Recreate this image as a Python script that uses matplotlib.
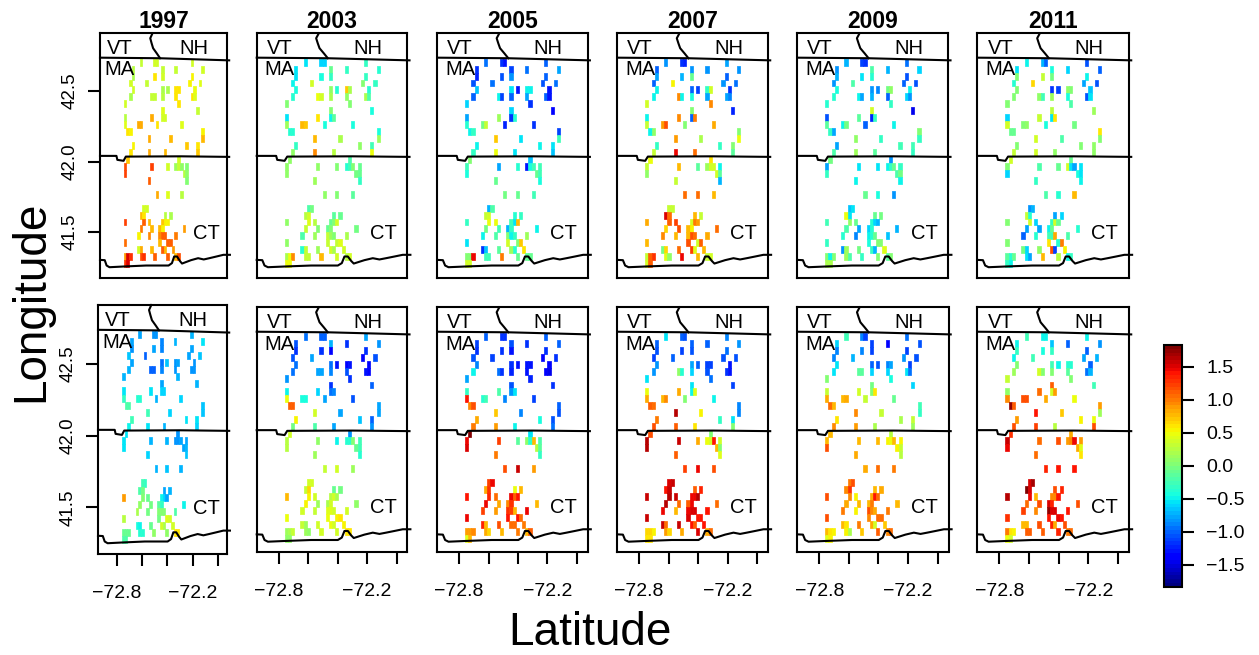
import numpy as np
import matplotlib
matplotlib.use('Agg')
import matplotlib.pyplot as plt
from matplotlib.colors import ListedColormap

plt.rcParams['font.family'] = ['Liberation Sans', 'DejaVu Sans']

years = [1997, 2003, 2005, 2007, 2009, 2011]

# grid centres
grid_lons = [-72.748, -72.727, -72.705, -72.684, -72.662, -72.641, -72.619, -72.598, -72.576, -72.555,
             -72.533, -72.512, -72.490, -72.469, -72.447, -72.426, -72.404, -72.383, -72.361, -72.340,
             -72.318, -72.297, -72.275, -72.254, -72.232, -72.211, -72.189, -72.168, -72.146, -72.125]
grid_lats = [42.705, 42.656, 42.606, 42.557, 42.508, 42.459, 42.409, 42.360, 42.311, 42.261,
             42.212, 42.163, 42.113, 42.064, 42.015, 41.965, 41.916, 41.867, 41.818, 41.768,
             41.719, 41.670, 41.620, 41.571, 41.522, 41.473, 41.423, 41.374, 41.325, 41.275]

# which columns hold a station in each row, same for every panel
row_cols = [[6, 11, 12, 25], [3, 14, 19, 29], [3, 11, 14, 25], [2, 8, 24, 28], [3, 14, 16, 19, 20, 26],
            [2, 10, 11, 14, 19, 25, 26], [0, 20], [14, 27], [0, 10, 14, 15], [0, 5, 6, 12, 21],
            [1, 2, 29], [9, 17, 29], [3, 23, 27], [2, 9, 15, 27], [1, 20],
            [0, 10, 16, 19, 20, 21, 23], [0, 22, 23], [9, 23], [], [12, 16, 21],
            [], [7, 8], [6, 7, 15, 17], [0, 7, 9, 14, 15, 16], [6, 10, 13, 14, 22],
            [5, 9, 13, 14, 15, 19], [0, 13, 16, 17], [5, 6, 10, 14, 15, 18],
            [0, 1, 2, 6, 7, 11, 16, 19, 20], [0, 1]]

top_1997 = [[.3, .35, .35, .35], [.25, .3, .3, .35], [.2, .6, .35, .55], [.35, .3, .55, .45], [.4, .2, .2, .6, .6, .5],
            [.2, .3, .3, .25, .6, .6, .45], [.4, .6], [.45, .3], [.25, .85, .4, .4], [.45, .85, .85, .6, .45],
            [.6, .55, .55], [.85, .8, .75], [.55, .7, .6], [.6, .85, .75, .7], [.7, .4],
            [1.2, 1.25, .4, .15, .3, .1, .05], [1.25, .25, .1], [1.1, 0], [], [.85, .45, .25],
            [], [.35, .35], [.8, .6, .25, .2], [1.25, 1.1, .8, .7, .55, .55], [1.0, .75, .8, .55, .9],
            [.55, .95, .95, 1.1, 1.1, 1.0], [1.05, .75, 1.1, 1.1], [.35, .85, .75, 1.1, .75, .9],
            [.9, 1.5, 1.3, 1.2, 1.3, 1.1, 1.1, .75, 1.2], [1.3, 1.5]]
top_2003 = [[-.55, -.6, -.6, -.3], [-.55, -.1, -.3, -.35], [-.55, -.45, -.3, -.3], [-.5, .35, 0, -.3], [-.45, .1, -.4, .7, .2, -.35],
            [-.35, .5, .35, .2, .1, .2, -.2], [.05, 0], [0, -.45], [-.55, .6, -.5, -.15], [.15, .8, .7, -.45, -.45],
            [-.4, -.35, -.45], [.75, .2, .15], [-.3, .1, -.25], [.1, .95, .25, .5], [.1, -.2],
            [.1, .1, 0, -.4, -.25, 0, -.1], [.1, -.05, -.1], [.15, -.3], [], [.1, .05, -.15],
            [], [-.2, -.05], [.25, .35, -.15, -.1], [.1, .45, .25, -.1, .05, .35], [.3, 0, -.1, 0, -.05],
            [-.2, .15, .3, .15, .05, .2], [.1, .3, .3, .45], [-.35, .3, .15, .35, .2, .4],
            [.2, .5, .95, .3, .3, .8, .35, .25, .4], [.5, .5]]
top_2005 = [[-.95, -1.2, -1.3, -1.0], [-1.2, -1.1, -.95, -.8], [-1.25, -1.05, -.85, -1.0], [-1.05, -.95, -1.05, -.95], [-.65, -.55, -1.3, -.5, -.5, -1.3],
            [-1.0, -.5, -1.1, -1.0, -.8, -1.0, -1.3], [-.6, -1.2], [-.6, -1.4], [-.75, .15, -1.2, -.35], [-.4, -.05, .3, -1.25, -1.15],
            [-.5, -.3, -1.1], [.7, -.55, -.25], [-.5, -.5, -.55], [-.3, .5, -.55, -.65], [.05, -.65],
            [-.25, -.75, -.35, -1.3, -.45, -.25, -.25], [-.45, -.1, -.25], [-.1, -.45], [], [-.05, -.1, -.25],
            [], [-.7, -.2], [.3, .4, -.35, -.3], [-.3, .5, .5, -.25, -.55, .75], [-.05, -.25, -.7, -.3, -.5],
            [-.5, -.2, 0, -.5, -.3, .15], [-.55, .35, 0, .7], [-1.15, -.65, -.15, .15, -.35, .6],
            [.05, .05, 1.45, -.25, -.25, 1.0, -.1, -.1, -.1], [.4, .4]]
top_2007 = [[-.85, -1.15, -1.25, -.75], [-1.0, -.85, -.85, -.85], [-.8, -.7, -.1, -1.0], [-1.0, .55, -.85, -.95], [-.5, -1.0, -1.1, -.3, .35, -1.2],
            [-.5, .95, -.5, -.45, -.75, -.75, -.9], [.35, .95], [0, -1.25], [-.5, .95, -1.0, 1.0], [.3, .9, 1.2, .05, .85],
            [-.5, .1, .05], [.9, .2, .5], [-.3, -.3, 0], [.3, 1.45, 1.05, -.15], [.5, .6],
            [.3, .8, -.15, .15, .4, .35, -.5], [.1, .35, -.15], [.3, -.7], [], [1.05, 1.05, .75],
            [], [.3, .3], [1.5, 1.05, .8, .3], [.85, 1.1, 1.25, .35, 1.0, .9], [.65, 1.15, .8, .55, 1.05],
            [.95, .75, .75, 1.2, 1.05, .85], [.8, 1.15, .4, 1.1], [-.05, .65, 1.05, 1.25, .45, .8],
            [.3, 1.1, 1.3, .45, .1, 1.45, .75, .3, .4], [.35, 1.1]]
top_2009 = [[-.7, -1.1, -1.2, -.95], [-.85, -.2, -.7, -.6], [-.7, -.55, -.35, -1.05], [-.85, -.2, -1.0, -1.05], [-.45, -.85, -.9, -.05, .1, -.5],
            [-.4, -.5, -.75, -.7, -1.0, -.6, -.85], [-.35, -.3], [.35, -1.45], [-1.05, -.15, -1.25, -.3], [-.15, -.5, -.05, -1.0, -.5],
            [-.3, -.75, .05], [.1, -.3, -.3], [-.75, -.25, -.25], [-.2, .15, -.15, -.3], [-.05, -.85],
            [-.75, -.55, -.55, -.5, -.3, -.1, -.3], [-.3, -.2, -.05], [-.5, -.5], [], [-.1, -.45, -.85],
            [], [-.65, -.55], [.5, -.55, -.1, -.05], [-.25, .1, -.1, -.4, -.6, -.7], [-.2, -.8, -.6, -.35, -.7],
            [-.35, -.9, -.5, -.4, -.1, -.65], [-.3, -.45, .05, .05], [-.85, .15, -.05, -.3, -.7, .45],
            [0, -.5, .05, .15, -.2, -.3, 0, -.15, .05], [.2, .2]]
top_2011 = [[-.5, -.7, -1.0, -1.05], [-.55, -.45, -.6, -1.0], [.05, .3, -.05, -.5], [-.35, .65, -.8, -1.05], [.05, -1.15, -1.1, .1, .05, -.65],
            [.05, .1, -.25, .15, -.45, -1.05, -.55], [.05, -.2], [.25, .15], [-.6, .3, -.55, .6], [.4, .05, .1, -.45, -.05],
            [-.1, -.1, .6], [.35, -.2, 0], [.05, .05, .1], [.3, .4, .1, .1], [.35, -.1],
            [0, -.2, -.1, .35, -.55, -.75, -.55], [-.6, -.45, -.55], [-.3, -.5], [], [-.2, -.4, .8],
            [], [-.85, -.7], [.3, -.4, -.75, -.6], [.05, .35, -.6, -.3, .4, -.1], [-.75, -.8, -.5, -.1, -.35],
            [-1.0, -.4, -.25, -.25, .85, -.2], [.05, .6, -.4, 1.0], [-.05, -.6, .1, 1.15, -1.1, .55],
            [-.15, -.4, -.1, -.55, -.75, .75, .25, -.5, -.3], [-.3, -.5]]
bot_1997 = [[-.75, -.85, -.85, -.7], [-.8, -.9, -.7, -.55], [-.85, -.8, -.9, -.75], [-.65, -1.0, -.8, -.65], [-.75, -.95, -.65, -.85, -.8, -.85],
            [-.7, -1.0, -1.0, -.9, -.85, -.85, -.85], [-.7, -.7], [-.75, -.7], [-.55, -.55, -.6, -.6], [-.3, -.35, -.35, -.7, -.6],
            [-.2, -.2, -.65], [-.25, -.6, -.65], [-.25, -.55, -.55], [-.5, -.55, -.7, -.6], [-.55, -.85],
            [-.55, -.7, -.7, -.85, -.85, -.75, -.75], [-.55, -.75, -.7], [-.6, -.65], [], [-.7, -.65, -.7],
            [], [-.25, -.3], [-.2, -.05, -.8, -.7], [.9, .05, -.1, -.5, -.6, -.75], [.1, -.05, -.15, -.3, -.5],
            [.2, -.05, 0, 0, .05, -.2], [.25, -.05, .45, .4], [-.45, -.5, -.1, .35, .2, .35],
            [-.1, -.1, -.1, -.4, -.35, .1, .1, .6, .6], [-.2, -.2]]
bot_2003 = [[-.95, -1.0, -1.0, -.8], [-1.05, -.7, -1.2, -.85], [-1.15, -1.2, -1.35, -1.2], [-1.05, -.8, -1.35, -1.05], [-.95, -.95, -1.3, -1.35, -1.3, -1.35],
            [-.95, -.75, -.75, -.9, -1.05, -1.3, -1.35], [-.85, -1.15], [-1.2, -1.0], [-.5, -.6, -.95, -.9], [.5, -.45, -.45, -.75, -1.05],
            [1.1, 1.1, -.8], [.35, -.8, -.8], [.55, -.65, -1.0], [-.05, -.2, -.75, -.85], [.35, -.85],
            [.25, .1, -.5, -.35, -.35, .05, -.25], [.25, -.1, -.25], [.15, -.35], [], [.3, .35, .15],
            [], [.35, .4], [.3, .65, -.1, -.05], [.75, .55, .35, .25, .35, .2], [.55, .15, .2, .35, .1],
            [.4, .3, .45, .45, .35, .35], [.5, .5, .55, .6], [.3, .15, .35, .5, .35, .55],
            [.15, .2, .3, .15, .1, .4, .4, .6, .6], [.1, .1]]
bot_2005 = [[-1.0, -1.15, -1.15, -1.0], [-1.1, -1.05, -1.2, -1.0], [-1.2, -1.2, -1.3, -1.15], [-1.05, -1.1, -1.35, -1.2], [-.9, -1.2, -1.3, -1.3, -1.3, -1.4],
            [-.5, -.95, -1.2, -1.25, -1.3, -1.4, -1.45], [-.8, -1.25], [-1.05, -1.15], [-.3, -.2, -.85, -.55], [1.4, -.35, -.25, -.9, -1.1],
            [.95, 1.15, -1.0], [.7, -.9, -1.05], [.85, -.45, -1.05], [1.0, .9, -.5, -.95], [1.83, -.55],
            [1.45, 1.25, -.15, .1, -.35, .8, -.2], [1.5, .25, -.15], [1.0, -.3], [], [1.2, 1.55, .9],
            [], [1.25, 1.45], [.85, 1.3, .5, .8], [1.4, 1.35, 1.05, 1.45, 1.1, 1.4], [1.45, .85, .95, 1.3, .8],
            [1.25, .9, 1.3, 1.25, .8, 1.45], [1.45, 1.4, 1.4, 1.05], [1.35, .75, 1.2, 1.05, 1.05, 1.0],
            [.9, .9, .95, .85, .65, .75, 1.0, .75, 1.1], [.45, .75]]
bot_2007 = [[-.55, -1.0, -1.05, -.9], [-1.0, -1.0, -1.0, -.85], [-1.05, -1.1, -1.05, -.95], [-1.1, -1.0, -1.05, -1.05], [-.85, -.75, -1.0, -1.1, -1.1, -1.3],
            [-.85, .1, -.4, -.6, -1.05, -1.2, -1.3], [-.55, -.95], [-.55, -1.1], [.5, .85, -.5, .45], [.85, .75, .95, .05, -.5],
            [1.1, 1.05, -.9], [1.65, .55, -.9], [1.0, -.3, -.55], [1.2, 1.1, .6, 0], [1.15, .05],
            [1.65, 1.6, .85, .5, .4, 1.4, .4], [1.65, .8, .05], [1.1, .45], [], [1.25, 1.45, 1.2],
            [], [1.5, 1.55], [1.4, 1.55, 1.1, 1.35], [1.6, 1.65, 1.6, 1.45, 1.45, 1.65], [1.65, 1.05, 1.1, 1.45, 1.05],
            [1.45, .8, 1.45, 1.5, 1.5, 1.4], [1.6, 1.5, 1.4, 1.4], [1.55, 1.05, 1.55, 1.4, 1.1, 1.4],
            [.65, .65, .55, .9, .65, .85, 1.5, .85, 1.05], [.6, .6]]
bot_2009 = [[-.25, -.9, -1.1, -.95], [-.6, -1.1, -1.4, -1.05], [-.9, -.9, -1.1, -1.1], [-.9, -.7, -.85, -1.05], [-.55, -1.0, -1.05, -.9, -.75, -1.1],
            [-.55, -.15, -.15, -.6, -.6, -.55, -.95], [.05, -.45], [-.05, -.6], [.3, .35, 0, .6], [.85, .75, .85, .3, -.1],
            [1.05, .8, -.25], [.95, .3, -.3], [.6, .2, .3], [.95, .9, .2, .15], [.8, .25],
            [.75, .8, .75, .55, .5, .75, .55], [1.15, .55, .3], [.85, .25], [], [.85, 1.05, 1.0],
            [], [1.0, 1.15], [.95, 1.3, .8, .85], [1.15, .95, .55, .85, 1.4, 1.05], [.85, .75, .8, 1.0, .75],
            [1.0, .55, 1.2, .95, .85, 1.0], [1.2, .95, 1.05, 1.05], [.75, .6, 1.0, .85, .4, .7],
            [.8, .6, .55, .55, .2, .7, 1.1, .95, 1.05], [.45, .55]]
bot_2011 = [[-.25, -.5, -.5, -.5], [-.5, -.65, -1.0, -.85], [-.3, -.45, -.3, -1.0], [-.5, -.25, -.75, -.7], [.05, -.25, -.5, -.4, -.4, -1.0],
            [.15, .4, .05, .05, -.15, -.95, -.7], [.3, .05], [1.1, -.25], [.1, 1.05, .35, .9], [.95, 1.15, 1.15, .85, .5],
            [1.75, 1.1, .9], [1.4, .7, .15], [.9, .55, .5], [1.15, 1.25, .25, 1.2], [1.3, .85],
            [1.55, 1.05, 1.15, .9, .95, 1.45, .9], [1.45, .85, .45], [1.05, .6], [], [1.35, 1.4, 1.4],
            [], [1.5, 1.7], [1.8, 1.5, 1.15, 1.35], [1.65, 1.45, .8, .95, .95, 1.4], [1.05, 1.15, 1.5, 1.35, 1.15],
            [1.25, .95, 1.75, 1.5, 1.5, 1.4], [1.3, 1.4, 1.45, 1.4], [.8, .8, 1.15, 1.35, .85, 1.15],
            [1.0, .6, .55, 1.1, 1.1, 1.1, 1.35, 1.0, 1.05], [.5, .35]]

top_panels = [top_1997, top_2003, top_2005, top_2007, top_2009, top_2011]
bot_panels = [bot_1997, bot_2003, bot_2005, bot_2007, bot_2009, bot_2011]

# state lines
ma_north_lon = [-72.948, -72.466, -71.912]
ma_north_lat = [42.737, 42.733, 42.718]
river_lon = [-72.527, -72.545, -72.534, -72.522, -72.493, -72.466]
river_lat = [42.910, 42.875, 42.839, 42.804, 42.768, 42.733]
ct_north_lon = [-72.948, -72.816, -72.809, -72.759, -72.741, -72.300, -71.912]
ct_north_lat = [42.040, 42.040, 42.012, 42.005, 42.035, 42.037, 42.033]
coast_lon = [-72.948, -72.910, -72.895, -72.872, -72.759, -72.579, -72.398, -72.371, -72.353, -72.330,
             -72.308, -72.290, -72.218, -72.161, -72.116, -72.071, -72.014, -71.958, -71.906]
coast_lat = [41.302, 41.300, 41.262, 41.250, 41.255, 41.262, 41.262, 41.279, 41.326, 41.326,
             41.295, 41.276, 41.300, 41.314, 41.305, 41.314, 41.326, 41.338, 41.338]

state_names = ['VT', 'NH', 'MA', 'CT']
state_lon = [-72.793, -72.195, -72.793, -72.091]
state_lat = [42.80, 42.80, 42.65, 41.49]

x_ticks = [-72.8, -72.6, -72.4, -72.2, -72.0]
x_labels = ['\u221272.8', '', '', '\u221272.2', '']
y_ticks = [41.5, 42.0, 42.5]
cbar_ticks = [-1.5, -1.0, -0.5, 0.0, 0.5, 1.0, 1.5]

W, H = 1259, 655
# left, right of the six columns in pixels
top_edges = [(100, 227.3), (256.7, 407.3), (437.3, 587.7), (617.3, 768), (797.3, 948.3), (977.3, 1129)]
bot_edges = [(98, 227.3), (256.7, 407.3), (437.3, 587.7), (617.3, 768), (797.3, 948.5), (977.3, 1129)]


def px_axes(fig, x0, x1, y0, y1):
    return fig.add_axes([x0 / W, 1 - y1 / H, (x1 - x0) / W, (y1 - y0) / H])


def edges(c):
    c = np.array(c)
    mid = (c[:-1] + c[1:]) / 2
    return np.r_[c[0] - (mid[0] - c[0]), mid, c[-1] + (c[-1] - mid[-1])]


def to_grid(vals):
    z = np.full((len(grid_lats), len(grid_lons)), np.nan)
    for r, (cols, v) in enumerate(zip(row_cols, vals)):
        z[r, cols] = v
    return z


cmap = ListedColormap(plt.get_cmap('jet')(np.linspace(0, 1, 64)))
lon_e = edges(grid_lons)
lat_e = edges(grid_lats)
LW = 1.5


def draw_panel(ax, vals, show_x, show_y):
    m = ax.pcolormesh(lon_e, lat_e, to_grid(vals), cmap=cmap, vmin=-1.83, vmax=1.83,
                      antialiased=True, edgecolors='face', linewidth=0.5)
    for xs, ys in [(ma_north_lon, ma_north_lat), (river_lon, river_lat),
                   (ct_north_lon, ct_north_lat), (coast_lon, coast_lat)]:
        ax.plot(xs, ys, color='black', lw=LW, clip_on=False, solid_joinstyle='round')
    for s, xx, yy in zip(state_names, state_lon, state_lat):
        ax.text(xx, yy, s, fontsize=14.5, ha='center', va='center')
    ax.set_xlim(-72.948, -71.927)
    ax.set_ylim(41.177, 42.91)
    for sp in ax.spines.values():
        sp.set_linewidth(LW)
    ax.tick_params(length=8.6, width=LW, labelsize=13.5)
    if show_x:
        ax.set_xticks(x_ticks)
        ax.set_xticklabels(x_labels)
        ax.tick_params(axis='x', pad=14, labelsize=14)
    else:
        ax.set_xticks([])
    if show_y:
        ax.set_yticks(y_ticks)
        ax.set_yticklabels(['41.5', '42.0', '42.5'], rotation=90, va='center')
        ax.tick_params(axis='y', pad=7)
    else:
        ax.set_yticks([])
    return m


fig = plt.figure(figsize=(W / 100, H / 100), dpi=100)

for i, year in enumerate(years):
    x0, x1 = top_edges[i]
    ax = px_axes(fig, x0, x1, 33.3, 277.5)
    m = draw_panel(ax, top_panels[i], False, i == 0)
    ax.set_title(str(year), fontsize=16.5, fontweight='bold', pad=1.5)
    x0, x1 = bot_edges[i]
    if i == 0:
        ax = px_axes(fig, x0, x1, 305, 553.7)
    else:
        ax = px_axes(fig, x0, x1, 307.3, 552)
    m = draw_panel(ax, bot_panels[i], True, i == 0)

cax = px_axes(fig, 1164, 1182, 345, 586.7)
cb = fig.colorbar(m, cax=cax, ticks=cbar_ticks)
cb.ax.set_yticklabels(['\u22121.5', '\u22121.0', '\u22120.5', '0.0', '0.5', '1.0', '1.5'])
cb.ax.tick_params(length=8.6, width=LW, labelsize=14, pad=9)
cb.outline.set_linewidth(LW)

fig.text(590 / W, 1 - 633 / H, 'Latitude', fontsize=33, ha='center', va='center')
fig.text(31 / W, 1 - 301 / H, 'Longitude', fontsize=33, rotation=90, ha='center', va='center')

fig.savefig('out.png', dpi=100)
